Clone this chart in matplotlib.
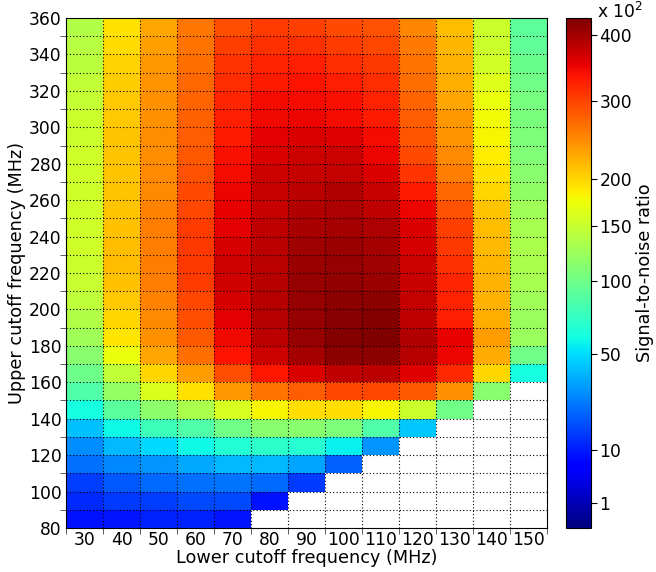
import numpy as np
import matplotlib
matplotlib.use("Agg")
import matplotlib.pyplot as plt
from matplotlib.colors import PowerNorm

nan = np.nan

# Lower cutoff frequency (MHz): columns
lower_cutoff = [30, 40, 50, 60, 70, 80, 90, 100, 110, 120, 130, 140, 150]
# Upper cutoff frequency (MHz): rows (lower edge of each cell), bottom -> top
upper_cutoff = [80, 90, 100, 110, 120, 130, 140, 150, 160, 170, 180, 190, 200, 210,
                220, 230, 240, 250, 260, 270, 280, 290, 300, 310, 320, 330, 340, 350]

# Signal-to-noise ratio (x 10^2), one list per lower cutoff, rows from 80 up to 350 MHz
snr_30 = [8.5, 11.6, 15, 24, 30, 42, 61, 85, 99, 114, 127, 137, 144, 149,
          151, 153, 154, 154, 154, 154, 153, 152, 151, 148, 146, 143, 140, 137]
snr_40 = [9.4, 13.9, 19.2, 28.6, 40, 58, 90, 120, 146, 172, 190, 199, 208, 212,
          215, 215, 212, 210, 210, 210, 210, 210, 208, 207, 205, 202, 196, 191]
snr_50 = [10.5, 15, 22, 32, 49, 77, 116, 161, 199, 230, 244, 250, 254, 257,
          258, 258, 258, 255, 250, 249, 247, 246, 245, 244, 241, 239, 235, 229]
snr_60 = [10.5, 16.4, 24, 36, 58, 85, 133, 192, 236, 269, 284, 293, 299, 305,
          308, 308, 305, 299, 296, 290, 284, 281, 279, 275, 272, 269, 266, 262]
snr_70 = [9.4, 16.4, 25, 40, 66, 102, 159, 239, 293, 337, 348, 356, 364, 367,
          367, 364, 357, 352, 351, 343, 340, 333, 330, 324, 318, 311, 302, 293]
snr_80 = [nan, 8.5, 22, 40, 69.5, 114, 180, 264, 335, 372, 384, 386, 386, 386,
          384, 384, 381, 376, 374, 370, 362, 356, 348, 343, 333, 327, 315, 305]
snr_90 = [nan, nan, 14, 35, 67, 114, 195, 282, 363, 399, 410, 410, 410, 409,
          406, 402, 398, 389, 384, 378, 370, 362, 351, 343, 337, 330, 315, 302]
snr_100 = [nan, nan, nan, 20.6, 56, 108, 195, 297, 381, 416, 422, 421, 418, 413,
           410, 406, 399, 393, 390, 378, 370, 359, 345, 340, 330, 318, 305, 296]
snr_110 = [nan, nan, nan, nan, 32, 85, 180, 299, 385, 418, 428, 422, 418, 406,
           403, 400, 395, 381, 375, 362, 351, 343, 333, 327, 318, 308, 299, 290]
snr_120 = [nan, nan, nan, nan, nan, 44, 151, 284, 360, 387, 392, 381, 378, 375,
           370, 364, 362, 351, 333, 311, 296, 287, 281, 275, 269, 264, 261, 253]
snr_130 = [nan, nan, nan, nan, nan, nan, 102, 244, 321, 351, 353, 330, 327, 322,
           316, 310, 303, 290, 272, 258, 249, 241, 239, 230, 225, 222, 220, 215]
snr_140 = [nan, nan, nan, nan, nan, nan, nan, 114, 200, 228, 236, 225, 222, 222,
           220, 217, 215, 210, 199, 192, 185, 181, 177, 172, 164, 156, 151, 151]
snr_150 = [nan, nan, nan, nan, nan, nan, nan, nan, 61, 102, 123, 123, 127, 130,
           132, 132, 130, 127, 119, 114, 110, 108, 106, 104, 102, 98, 94, 92]

cbar_ticks = [1, 10, 50, 100, 150, 200, 300, 400]

Z = np.array([snr_30, snr_40, snr_50, snr_60, snr_70, snr_80, snr_90, snr_100,
              snr_110, snr_120, snr_130, snr_140, snr_150]).T
step = 10
x_edges = np.append(np.array(lower_cutoff) - step / 2, lower_cutoff[-1] + step / 2)
y_edges = np.append(np.array(upper_cutoff), upper_cutoff[-1] + step)

W, H = 656, 572
fig = plt.figure(figsize=(W / 100, H / 100), dpi=100)
ax = fig.add_axes([66 / W, 44 / H, 481 / W, 510 / H])
cax = fig.add_axes([566 / W, 44 / H, 25 / W, 510 / H])

norm = PowerNorm(gamma=0.5, vmin=0, vmax=np.nanmax(Z))
mesh = ax.pcolormesh(x_edges, y_edges, np.ma.masked_invalid(Z), cmap="jet", norm=norm)

for xe in x_edges[1:-1]:
    ax.axvline(xe, color="black", linestyle=(0, (1, 2)), linewidth=0.8, zorder=3)
for ye in y_edges[1:-1]:
    ax.axhline(ye, color="black", linestyle=(0, (1, 2)), linewidth=0.8, zorder=3)

ax.set_xlim(x_edges[0], x_edges[-1])
ax.set_ylim(y_edges[0], y_edges[-1])

ax.set_xticks(lower_cutoff)
ax.set_xticklabels([str(v) for v in lower_cutoff])
ax.set_xticks(x_edges, minor=True)
ax.set_yticks(np.arange(80, 361, 20))
ax.set_yticks(np.arange(90, 360, 20), minor=True)
ax.tick_params(axis="both", which="major", length=0, labelsize=12.3)
ax.tick_params(axis="x", which="major", pad=2)
ax.tick_params(axis="y", which="major", pad=3)
ax.tick_params(axis="both", which="minor", length=4, direction="out", color="#444444")

ax.set_xlabel("Lower cutoff frequency (MHz)", fontsize=12.7, labelpad=0)
ax.set_ylabel("Upper cutoff frequency (MHz)", fontsize=12.7, labelpad=2)

cb = fig.colorbar(mesh, cax=cax, ticks=cbar_ticks)
cb.ax.set_yticklabels([str(t) for t in cbar_ticks])
cb.ax.tick_params(labelsize=12.3, length=4, direction="out", pad=2)
cb.ax.minorticks_off()
cb.set_label("Signal-to-noise ratio", fontsize=12.7, labelpad=3)
cax.text(1.24, 1.0, r"x 10$^2$", transform=cax.transAxes, ha="left", va="baseline", fontsize=12.3)

fig.savefig("out.png", dpi=100)
